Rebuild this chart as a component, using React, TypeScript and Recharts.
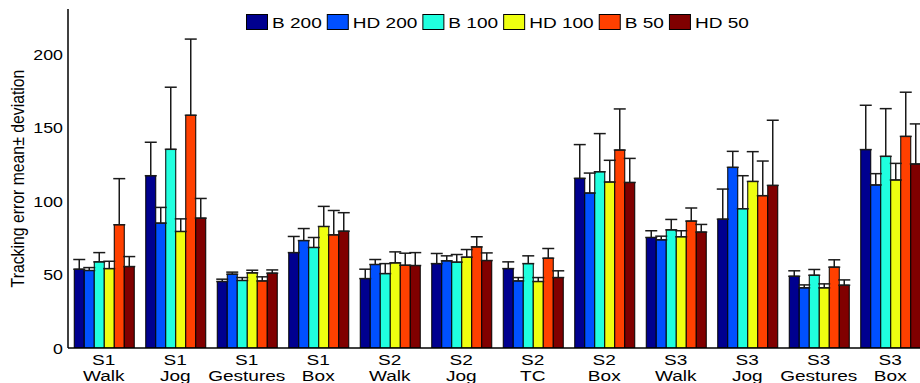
import { Bar, BarChart, ErrorBar, Legend, XAxis, YAxis } from "recharts";

const categories = [
  "S1\nWalk", "S1\nJog", "S1\nGestures", "S1\nBox",
  "S2\nWalk", "S2\nJog", "S2\nTC", "S2\nBox",
  "S3\nWalk", "S3\nJog", "S3\nGestures", "S3\nBox",
];

const b200 = [53.7, 117.4, 45.3, 65, 47.3, 57.5, 54.1, 115.6, 75.3, 87.8, 48.9, 135.2];
const b200Dev = [6.6, 22.8, 1.6, 11, 6.4, 6.9, 4.6, 23, 4.6, 20.5, 3.7, 30.2];
const hd200 = [52.8, 85.1, 50.3, 73.2, 56.9, 59.4, 45.7, 105.6, 73.7, 123.1, 41, 111.1];
const hd200Dev = [2, 10.7, 1.4, 8.2, 3.4, 3.4, 2.3, 13.6, 2.5, 10.9, 2, 7.7];
const b100 = [58.7, 135.4, 46, 68.5, 50.7, 58.5, 57.5, 120.1, 80.5, 94.9, 49.6, 130.6];
const b100Dev = [6.3, 42.3, 2, 6.8, 6.8, 5.2, 5.3, 26, 7.1, 22.5, 3.9, 32.5];
const hd100 = [54.1, 79.4, 51.2, 82.8, 58, 61.9, 45.3, 113.1, 75.8, 113.5, 41, 114.5];
const hd100Dev = [5, 8.6, 1.8, 13.7, 7.5, 5.2, 2.7, 14.8, 4.1, 20.3, 2.7, 11.3];
const b50 = [84, 158.6, 45.7, 77.1, 56.4, 68.9, 61.2, 134.9, 86.5, 103.8, 55.1, 144.2];
const b50Dev = [31.4, 51.9, 2.8, 16.6, 8.2, 6.9, 6.6, 28, 8.9, 23.6, 5, 30.1];
const hd50 = [55.5, 88.5, 51, 79.6, 56.2, 59.6, 48, 112.8, 79, 110.8, 42.8, 125.4];
const hd50Dev = [6.8, 13.4, 2.2, 12.6, 8.8, 5.2, 4.6, 16.4, 5.2, 44.4, 3.6, 27.3];

const yTicks = [0, 50, 100, 150, 200];

const series = [
  { key: "b200", name: "B 200", values: b200, dev: b200Dev, color: "#00008f" },
  { key: "hd200", name: "HD 200", values: hd200, dev: hd200Dev, color: "#0050ff" },
  { key: "b100", name: "B 100", values: b100, dev: b100Dev, color: "#20ffdf" },
  { key: "hd100", name: "HD 100", values: hd100, dev: hd100Dev, color: "#efff10" },
  { key: "b50", name: "B 50", values: b50, dev: b50Dev, color: "#ff4000" },
  { key: "hd50", name: "HD 50", values: hd50, dev: hd50Dev, color: "#800000" },
];

// only the upper half of each deviation is visible, so low side is 0
const data = categories.map((c, i) => {
  const row: Record<string, unknown> = { cat: c };
  series.forEach((s) => {
    row[s.key] = s.values[i];
    row[s.key + "Dev"] = [0, s.dev[i]];
  });
  return row;
});

const FONT = '"Liberation Sans", Arial, Helvetica, sans-serif';
const STRETCH = 1.27; // the original figure is stretched sideways

let ctx: CanvasRenderingContext2D | null = null;
function textWidth(s: string, size: number) {
  if (!ctx) ctx = document.createElement("canvas").getContext("2d");
  if (!ctx) return s.length * size * 0.55;
  ctx.font = `${size}px ${FONT}`;
  return ctx.measureText(s).width;
}

function CategoryTick({ x, y, payload }: any) {
  const [top, bottom] = String(payload.value).split("\n");
  return (
    <g transform={`translate(${x},${y}) scale(${STRETCH},1)`}>
      <text textAnchor="middle" fontSize={15} fontFamily={FONT} fill="#000">
        <tspan x={0} y={17.5}>{top}</tspan>
        <tspan x={0} y={33.5}>{bottom}</tspan>
      </text>
    </g>
  );
}

function ValueTick({ x, y, payload }: any) {
  return (
    <g transform={`translate(${x - 5},${y + 5.5}) scale(${STRETCH},1)`}>
      <text textAnchor="end" fontSize={14} fontFamily={FONT} fill="#000">
        {payload.value}
      </text>
    </g>
  );
}

function LegendBox() {
  const size = 15;
  let cx = 0;
  const items = series.map((s) => {
    const w = textWidth(s.name, size) * STRETCH;
    const item = { ...s, x: cx, w };
    cx += 22 + 4 + w + 5;
    return item;
  });
  return (
    <svg width={cx} height={18} style={{ display: "block" }}>
      {items.map((it) => (
        <g key={it.key} transform={`translate(${it.x},0)`}>
          <rect x={0.5} y={1.5} width={21} height={15} fill={it.color} stroke="#000" strokeWidth={1} />
          <g transform={`translate(26,14.5) scale(${STRETCH},1)`}>
            <text fontSize={size} fontFamily={FONT} fill="#000">
              {it.name}
            </text>
          </g>
        </g>
      ))}
    </svg>
  );
}

function YLabel({ viewBox }: any) {
  const cx = (viewBox?.x ?? 0) + 17.5;
  const cy = (viewBox?.y ?? 9) + (viewBox?.height ?? 339) / 2;
  return (
    <text
      transform={`translate(${cx},${cy}) scale(1.2,1) rotate(-90)`}
      textAnchor="middle"
      dominantBaseline="central"
      fontSize={15.8}
      fontFamily={FONT}
      fill="#000"
    >
      Tracking error mean± deviation
    </text>
  );
}

export default function App() {
  return (
    <div
      style={{
        position: "absolute",
        left: 0,
        top: 0,
        width: 920,
        height: 383,
        overflow: "hidden",
        background: "#fff",
      }}
    >
      <BarChart
        width={930}
        height={383}
        data={data}
        margin={{ top: 9, right: 4, bottom: 0, left: 0 }}
        barCategoryGap={6.25}
        barGap={0}
      >
        <XAxis
          dataKey="cat"
          interval={0}
          height={35}
          tickSize={0}
          tickMargin={0}
          tickLine={false}
          axisLine={{ stroke: "#000", strokeWidth: 1.5 }}
          tick={<CategoryTick />}
        />
        <YAxis
          width={68}
          domain={[0, 231]}
          ticks={yTicks}
          allowDataOverflow
          tickSize={0}
          tickMargin={0}
          tickLine={false}
          axisLine={{ stroke: "#000", strokeWidth: 1.5 }}
          tick={<ValueTick />}
          label={{ content: <YLabel /> }}
        />
        <Legend
          layout="horizontal"
          verticalAlign="middle"
          align="center"
          content={<LegendBox />}
          wrapperStyle={{ position: "absolute", top: 13, left: 246, width: "auto" }}
        />
        {series.map((s) => (
          <Bar
            key={s.key}
            dataKey={s.key}
            name={s.name}
            fill={s.color}
            stroke="#000"
            strokeWidth={1}
            isAnimationActive={false}
          >
            <ErrorBar
              dataKey={s.key + "Dev"}
              width={6}
              stroke="#1a1a1a"
              strokeWidth={1.5}
              isAnimationActive={false}
            />
          </Bar>
        ))}
      </BarChart>
    </div>
  );
}
